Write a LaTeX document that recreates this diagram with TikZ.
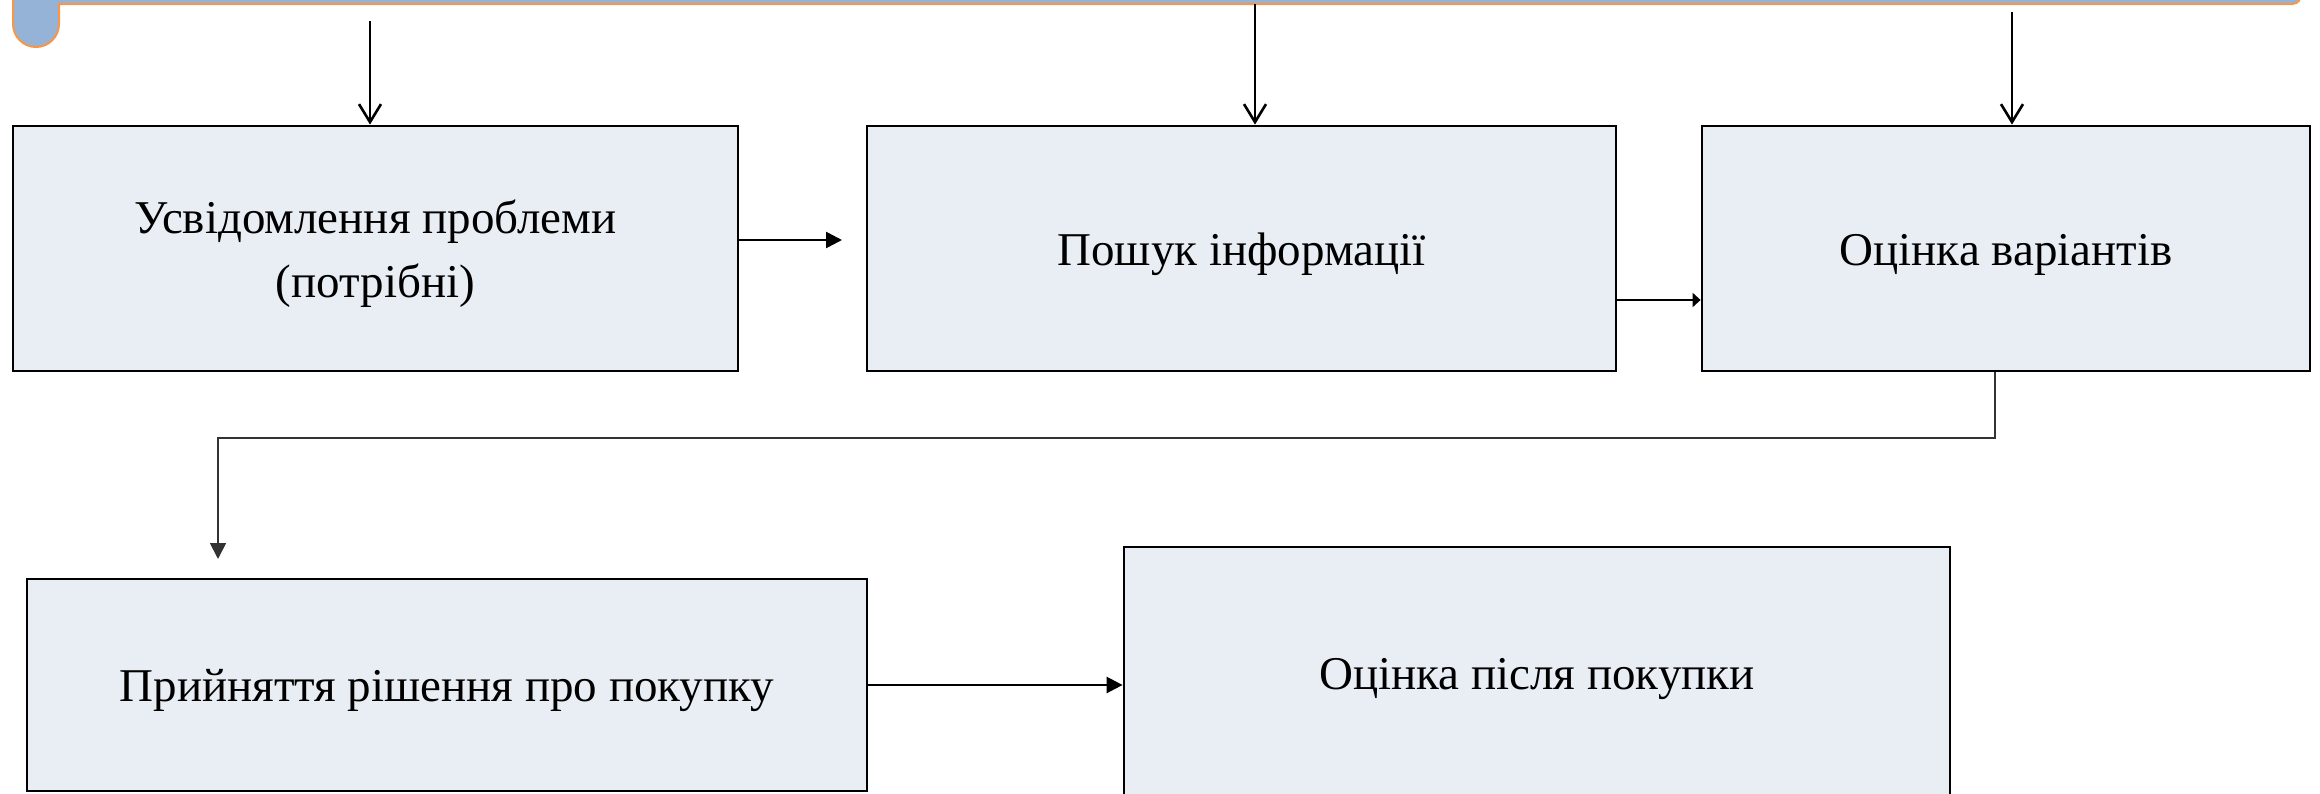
\documentclass[tikz,border=0pt]{standalone}
\usepackage{fontspec}
\setmainfont{Liberation Serif}
\usetikzlibrary{arrows.meta}

\definecolor{boxfill}{HTML}{E9EDF4}
\definecolor{barblue}{HTML}{95B3D7}
\definecolor{barorange}{HTML}{F79646}

\newcommand{\upstrut}{\rule{0pt}{22pt}}

\tikzset{
    stagebox/.style={draw, line width=1.4pt, fill=boxfill, inner sep=0pt,
        align=center, font=\fontsize{23.5}{32}\selectfont},
    arr/.style={line width=1.3pt, -{Triangle[length=8pt,width=8pt]}},
    openarr/.style={line width=1.3pt, -{Straight Barb[length=9pt,width=11pt]}},
}

\begin{document}
\begin{tikzpicture}[x=0.5pt, y=-0.5pt]
    \useasboundingbox (0,0) rectangle (2320,793);
    \clip (0,0) rectangle (2320,793);

    % bar at the top
    \draw[fill=barblue, draw=barorange, line width=1pt]
        (13,-30) -- (13,24) arc[start angle=180, end angle=360, radius=11.5pt]
        -- (59,4) -- (2292,4) to[out=0, in=-90] (2300,-30) -- cycle;

    % stages
    \node[stagebox, minimum width=362.5pt, minimum height=122.5pt] (need) at (375.5,248.5)
        {\upstrut Усвідомлення проблеми\\(потрібні)};
    \node[stagebox, minimum width=374.5pt, minimum height=122.5pt] (search) at (1241.5,248.5)
        {\upstrut Пошук інформації};
    \node[stagebox, minimum width=304pt, minimum height=122.5pt] (eval) at (2006,248.5)
        {\upstrut Оцінка варіантів};
    \node[stagebox, minimum width=420pt, minimum height=106pt] (decide) at (447,685)
        {\upstrut Прийняття рішення про покупку};
    \node[stagebox, minimum width=413pt, minimum height=126pt] (after) at (1537,673)
        {\upstrut Оцінка після покупки};

    % arrows from the bar
    \coordinate (t1) at (370,21);
    \coordinate (t2) at (1255,4);
    \coordinate (t3) at (2012,12);
    \draw[openarr] (t1) -- (t1 |- need.north);
    \draw[openarr] (t2) -- (t2 |- search.north);
    \draw[openarr] (t3) -- (t3 |- eval.north);

    % arrows between stages
    \coordinate (p1) at (842,240);
    \draw[arr] (p1 -| need.east) -- (p1);
    \coordinate (p2) at (0,300);
    \draw[line width=1.3pt, -{Triangle[length=4pt,width=7pt]}] (p2 -| search.east) -- (p2 -| eval.west);

    % elbow down to the decision
    \coordinate (e1) at (1995,438);
    \coordinate (e2) at (218,438);
    \coordinate (e3) at (218,559);
    \draw[arr, line width=0.9pt, black!80] (e1 |- eval.south) -- (e1) -- (e2) -- (e3);

    \draw[arr] (decide.east) -- (decide.east -| after.west);
\end{tikzpicture}
\end{document}
